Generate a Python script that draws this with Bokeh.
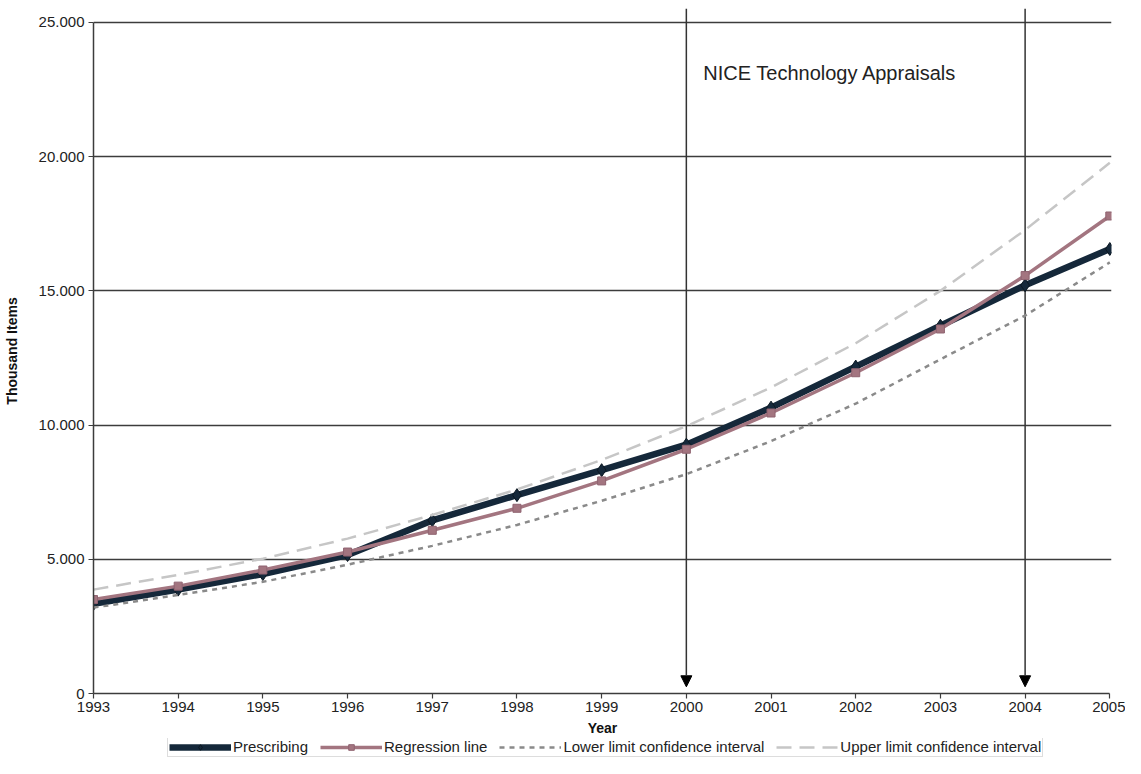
from bokeh.plotting import figure
from bokeh.layouts import column
from bokeh.models import (Range1d, Arrow, NormalHead, Label, Legend, LegendItem,
                          FixedTicker, LinearAxis, Grid)
from bokeh.embed import file_html
from bokeh.resources import INLINE

# ---- data ----
years = list(range(1993, 2006))
prescribing = [3340, 3870, 4450, 5160, 6450, 7390, 8320, 9270, 10650, 12180, 13700, 15210, 16560]
regression = [3500, 4000, 4600, 5270, 6080, 6900, 7920, 9100, 10450, 11950, 13580, 15570, 17790]
lower_ci = [3200, 3670, 4160, 4800, 5500, 6280, 7180, 8170, 9400, 10800, 12450, 14080, 16060]
upper_ci = [3870, 4420, 5020, 5770, 6650, 7600, 8700, 9960, 11400, 13050, 15000, 17270, 19770]
y_ticks = [0, 5000, 10000, 15000, 20000, 25000]
y_tick_labels = ["0", "5.000", "10.000", "15.000", "20.000", "25.000"]
appraisal_years = [2000, 2004]
annotation_text = "NICE Technology Appraisals"
annotation_pos = (2000.2, 23100)
series_names = ["Prescribing", "Regression line",
                "Lower limit confidence interval", "Upper limit confidence interval"]

FONT = "Liberation Sans"
TXT = "#222222"
GRID = "#3c3c3c"
C_PRES = "#15283a"
C_REG = "#a37580"
C_LOW = "#8a8a8a"
C_UP = "#c6c6c6"

W = 1125
y_top = 25520
p = figure(width=W, height=738, output_backend="svg", toolbar_location=None,
           x_range=Range1d(1993, 2005.02), y_range=Range1d(0, y_top),
           min_border_left=93, min_border_right=14, min_border_top=8, min_border_bottom=43,
           x_axis_location=None, y_axis_location=None)
p.outline_line_color = None
p.background_fill_color = "white"
p.border_fill_color = "white"

# axes
xaxis = LinearAxis(ticker=FixedTicker(ticks=years), bounds=(years[0], years[-1]),
                   axis_label="Year")
yaxis = LinearAxis(ticker=FixedTicker(ticks=y_ticks), bounds=(y_ticks[0], y_ticks[-1]),
                   axis_label="Thousand Items",
                   major_label_overrides={t: l for t, l in zip(y_ticks, y_tick_labels)})
for ax in (xaxis, yaxis):
    ax.axis_line_color = GRID
    ax.axis_line_width = 1.5
    ax.major_tick_line_color = GRID
    ax.major_tick_line_width = 1.2
    ax.major_tick_in = 0
    ax.major_tick_out = 5
    ax.minor_tick_line_color = None
    ax.major_label_text_font = FONT
    ax.major_label_text_font_size = "15px"
    ax.major_label_text_color = TXT
    ax.axis_label_text_font = FONT
    ax.axis_label_text_font_size = "14px"
    ax.axis_label_text_font_style = "bold"
    ax.axis_label_text_color = "#111111"
xaxis.major_label_standoff = 3
xaxis.axis_label_standoff = 5
yaxis.major_label_standoff = 4
yaxis.axis_label_standoff = 16
p.add_layout(xaxis, "below")
p.add_layout(yaxis, "left")

p.xgrid.visible = False
p.ygrid.visible = False
yg = Grid(dimension=1, ticker=FixedTicker(ticks=y_ticks), grid_line_color=GRID,
          grid_line_width=1.5)
p.add_layout(yg)

# appraisal arrows
for yr in appraisal_years:
    p.add_layout(Arrow(x_start=yr, y_start=y_top, x_end=yr, y_end=250,
                       line_color="#333333", line_width=1.5, level="underlay",
                       end=NormalHead(size=11, fill_color="black", line_color="black")))


def draw_series(fig):
    r_pres = fig.line(years, prescribing, line_color=C_PRES, line_width=6.5)
    s_pres = fig.scatter(years, prescribing, marker="diamond", size=13,
                         fill_color=C_PRES, line_color="#0c1822")
    r_reg = fig.line(years, regression, line_color=C_REG, line_width=3.5)
    s_reg = fig.scatter(years, regression, marker="square", size=8,
                        fill_color=C_REG, line_color="#8f6370")
    r_low = fig.line(years, lower_ci, line_color=C_LOW, line_width=2.5, line_dash="5 5")
    r_up = fig.line(years, upper_ci, line_color=C_UP, line_width=2.5, line_dash="15 8")
    return [[r_pres, s_pres], [r_reg, s_reg], [r_low], [r_up]]


draw_series(p)

p.add_layout(Label(x=annotation_pos[0], y=annotation_pos[1], text=annotation_text,
                   text_font=FONT, text_font_size="20px", text_color=TXT,
                   text_baseline="middle"))

# legend strip (separate figure; its series copies lie outside its visible range)
lp = figure(width=W, height=20, output_backend="svg", toolbar_location=None,
            x_range=Range1d(0, 1), y_range=Range1d(0, 1),
            min_border_left=0, min_border_right=0, min_border_top=0, min_border_bottom=0,
            x_axis_location=None, y_axis_location=None)
lp.outline_line_color = None
lp.grid.visible = False
lp.border_fill_color = "white"
lrs = draw_series(lp)

legend = Legend(items=[LegendItem(label=n, renderers=r) for n, r in zip(series_names, lrs)],
                orientation="horizontal", location=(74, 1))
legend.label_text_font = FONT
legend.label_text_font_size = "15px"
legend.label_text_color = TXT
legend.glyph_width = 62
legend.glyph_height = 14
legend.label_standoff = 2
legend.spacing = 12
legend.padding = 1
legend.margin = 0
legend.border_line_color = "#bbbbbb"
legend.border_line_width = 1
legend.label_height = 14
legend.background_fill_color = "white"
lp.add_layout(legend, "center")

layout = column(p, lp, spacing=0)
open("out.html", "w").write(file_html(layout, INLINE))
